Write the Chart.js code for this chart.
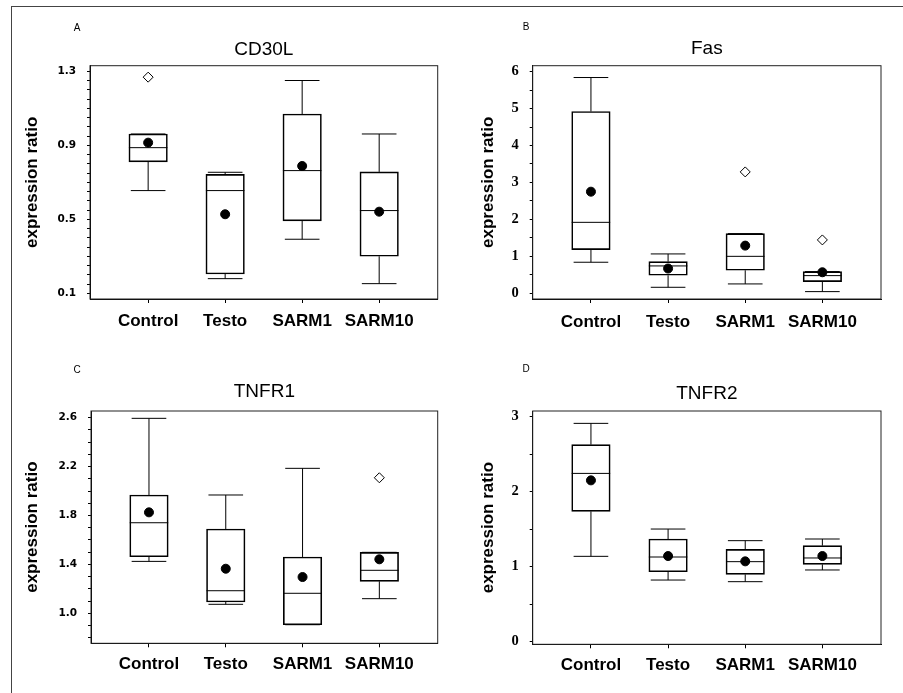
<!DOCTYPE html>
<html>
<head>
<meta charset="utf-8">
<script src="https://cdn.jsdelivr.net/npm/chart.js@4.4.0/dist/chart.umd.min.js"></script>
<style>
  body { margin: 0; background: #fff; width: 903px; height: 693px; overflow: hidden; position: relative; }
  .outer { position: absolute; left: 11px; top: 6px; width: 1000px; height: 1000px; border-left: 1.5px solid #444; border-top: 1.5px solid #444; }
  .panel { position: absolute; }
</style>
</head>
<body>
<div class="outer"></div>
<div class="panel" style="left:13px;top:8px;width:437px;height:332px"><canvas id="chartA"></canvas></div>
<div class="panel" style="left:452px;top:8px;width:451px;height:332px"><canvas id="chartB"></canvas></div>
<div class="panel" style="left:13px;top:345px;width:437px;height:348px"><canvas id="chartC"></canvas></div>
<div class="panel" style="left:452px;top:345px;width:451px;height:348px"><canvas id="chartD"></canvas></div>
<script>
const categories = ["Control", "Testo", "SARM1", "SARM10"];

// CD30L
const cd30lMin = [0.655, 0.179, 0.392, 0.152];
const cd30lQ1 = [0.81, 0.204, 0.491, 0.30];
const cd30lMedian = [0.887, 0.655, 0.763, 0.547];
const cd30lQ3 = [0.961, 0.743, 1.069, 0.756];
const cd30lMax = [0.961, 0.754, 1.25, 0.961];
const cd30lMean = [0.914, 0.527, 0.788, 0.541];
const cd30lOutliers = [1.268, null, null, null];
const cd30lTicks = ["0.1", "0.5", "0.9", "1.3"];

// Fas
const fasMin = [0.84, 0.162, 0.253, 0.045];
const fasQ1 = [1.18, 0.487, 0.623, 0.316];
const fasMedian = [1.92, 0.74, 1.0, 0.478];
const fasQ3 = [4.92, 0.857, 1.615, 0.587];
const fasMax = [5.84, 1.065, 1.615, 0.587];
const fasMean = [2.75, 0.67, 1.29, 0.569];
const fasOutliers = [null, null, 3.285, 1.444];
const fasTicks = ["0", "1", "2", "3", "4", "5", "6"];

// TNFR1
const tnfr1Min = [1.425, 1.074, 0.907, 1.12];
const tnfr1Q1 = [1.463, 1.093, 0.907, 1.262];
const tnfr1Median = [1.741, 1.185, 1.164, 1.352];
const tnfr1Q3 = [1.968, 1.69, 1.461, 1.499];
const tnfr1Max = [2.595, 1.968, 2.186, 1.499];
const tnfr1Mean = [1.826, 1.365, 1.297, 1.442];
const tnfr1Outliers = [null, null, null, 2.109];
const tnfr1Ticks = ["1.0", "1.4", "1.8", "2.2", "2.6"];

// TNFR2
const tnfr2Min = [1.138, 0.822, 0.80, 0.956];
const tnfr2Q1 = [1.738, 0.933, 0.898, 1.031];
const tnfr2Median = [2.244, 1.129, 1.067, 1.116];
const tnfr2Q3 = [2.627, 1.369, 1.231, 1.28];
const tnfr2Max = [2.911, 1.502, 1.347, 1.369];
const tnfr2Mean = [2.151, 1.142, 1.071, 1.142];
const tnfr2Outliers = [null, null, null, null];
const tnfr2Ticks = ["0", "1", "2", "3"];

Chart.defaults.font.family = "Arial, 'Liberation Sans', sans-serif";
Chart.defaults.color = "#000";

// whiskers and medians, drawn under the boxes and points
const boxPlugin = {
  id: "boxWhiskers",
  beforeDatasetsDraw(chart, args, opts) {
    const ctx = chart.ctx;
    const xs = chart.scales.x;
    const ys = chart.scales.y;
    const bars = chart.getDatasetMeta(2).data;
    ctx.save();
    ctx.strokeStyle = "#000";
    ctx.lineWidth = 1;
    for (let i = 0; i < categories.length; i++) {
      const cx = xs.getPixelForValue(i);
      const w = bars[i].width;
      const cap = w * 0.45;
      const yMin = ys.getPixelForValue(opts.min[i]);
      const yQ1 = ys.getPixelForValue(opts.q1[i]);
      const yMed = ys.getPixelForValue(opts.median[i]);
      const yQ3 = ys.getPixelForValue(opts.q3[i]);
      const yMax = ys.getPixelForValue(opts.max[i]);
      ctx.beginPath();
      ctx.moveTo(cx, yMin); ctx.lineTo(cx, yQ1);
      ctx.moveTo(cx, yQ3); ctx.lineTo(cx, yMax);
      ctx.moveTo(cx - cap, yMin); ctx.lineTo(cx + cap, yMin);
      ctx.moveTo(cx - cap, yMax); ctx.lineTo(cx + cap, yMax);
      ctx.moveTo(cx - w / 2, yMed); ctx.lineTo(cx + w / 2, yMed);
      ctx.stroke();
    }
    ctx.restore();
  },
  afterDraw(chart, args, opts) {
    const ctx = chart.ctx;
    const a = chart.chartArea;
    ctx.save();
    ctx.strokeStyle = "#222";
    ctx.lineWidth = 1;
    ctx.strokeRect(a.left, a.top, a.right - a.left, a.bottom - a.top);
    ctx.fillStyle = "#000";
    ctx.font = "10px Arial, 'Liberation Sans', sans-serif";
    ctx.textAlign = "center";
    ctx.textBaseline = "middle";
    ctx.fillText(opts.letter, opts.letterX, opts.letterY);
    ctx.restore();
  },
};

function makePanel(canvasId, p) {
  const majors = p.ticks.map((t) => parseFloat(t));
  const outlierPts = [];
  p.outliers.forEach((v, i) => {
    if (v !== null) outlierPts.push({ x: i, y: v });
  });

  new Chart(document.getElementById(canvasId), {
    type: "bar",
    data: {
      datasets: [
        {
          type: "scatter",
          data: p.mean.map((v, i) => ({ x: i, y: v })),
          pointRadius: 4.5,
          pointBackgroundColor: "#000",
          pointBorderColor: "#000",
          pointBorderWidth: 1,
        },
        {
          type: "scatter",
          data: outlierPts,
          pointStyle: "rectRot",
          pointRadius: 5,
          pointBackgroundColor: "#fff",
          pointBorderColor: "#000",
          pointBorderWidth: 1,
        },
        {
          type: "bar",
          data: p.q1.map((v, i) => ({ x: i, y: [v, p.q3[i]] })),
          backgroundColor: "rgba(0,0,0,0)",
          borderColor: "#000",
          borderWidth: 1,
          borderSkipped: false,
          barThickness: 38.5,
        },
      ],
    },
    options: {
      responsive: true,
      maintainAspectRatio: false,
      animation: false,
      layout: { padding: { left: 0, right: p.padRight, top: 0, bottom: 0 } },
      scales: {
        x: {
          type: "linear",
          min: -0.755,
          max: 3.76,
          bounds: "data",
          offset: false,
          afterBuildTicks: (axis) => {
            axis.ticks = categories.map((c, i) => ({ value: i }));
          },
          afterFit: (axis) => {
            axis.height = p.xHeight;
          },
          grid: { display: true, drawOnChartArea: false, offset: false, tickLength: 4, color: "#000" },
          border: { display: true, color: "#000", width: 1 },
          ticks: {
            autoSkip: false,
            maxRotation: 0,
            padding: p.xPad,
            font: { size: 17, weight: "bold" },
            callback: (v) => categories[v],
          },
        },
        y: {
          type: "linear",
          min: p.yMin,
          max: p.yMax,
          bounds: "data",
          afterBuildTicks: (axis) => {
            const t = [];
            const start = Math.ceil(p.yMin / p.minorStep - 1e-9);
            for (let k = start; k * p.minorStep <= p.yMax + 1e-9; k++) {
              t.push({ value: Math.round(k * p.minorStep * 1000) / 1000 });
            }
            axis.ticks = t;
          },
          afterFit: (axis) => {
            axis.width = p.yWidth;
          },
          grid: { display: true, drawOnChartArea: false, tickLength: 3, color: "#000" },
          border: { display: true, color: "#000", width: 1 },
          ticks: {
            autoSkip: false,
            padding: 11,
            font: p.tickFont,
            callback: (v) => {
              const idx = majors.findIndex((m) => Math.abs(m - v) < 1e-6);
              return idx >= 0 ? p.ticks[idx] : "";
            },
          },
          title: {
            display: true,
            text: "expression ratio",
            font: { size: 17, weight: "bold" },
            padding: { top: p.yTitlePad, bottom: 0 },
          },
        },
      },
      plugins: {
        legend: { display: false },
        tooltip: { enabled: false },
        title: {
          display: true,
          text: p.title,
          fullSize: false,
          font: { size: 19, weight: "normal" },
          padding: { top: p.titleTop, bottom: p.titleBottom },
        },
        boxWhiskers: {
          min: p.min, q1: p.q1, median: p.median, q3: p.q3, max: p.max,
          letter: p.letter, letterX: p.letterX, letterY: p.letterY,
        },
      },
    },
    plugins: [boxPlugin],
  });
}

const sansTicks = { family: "'DejaVu Sans', sans-serif", size: 10.5, weight: "bold" };
const serifTicks = { family: "'Liberation Serif', 'Times New Roman', serif", size: 14.5, weight: "bold" };

makePanel("chartA", {
  title: "CD30L", letter: "A", letterX: 64, letterY: 20.5,
  min: cd30lMin, q1: cd30lQ1, median: cd30lMedian, q3: cd30lQ3, max: cd30lMax,
  mean: cd30lMean, outliers: cd30lOutliers, ticks: cd30lTicks,
  yMin: 0.069, yMax: 1.33, minorStep: 0.05, tickFont: sansTicks,
  yWidth: 77, padRight: 12.3, xHeight: 41, xPad: 8.5,
  titleTop: 29.9, titleBottom: 5.0, yTitlePad: 9.5,
});

makePanel("chartB", {
  title: "Fas", letter: "B", letterX: 74, letterY: 19.5,
  min: fasMin, q1: fasQ1, median: fasMedian, q3: fasQ3, max: fasMax,
  mean: fasMean, outliers: fasOutliers, ticks: fasTicks,
  yMin: -0.155, yMax: 6.16, minorStep: 0.5, tickFont: serifTicks,
  yWidth: 80.7, padRight: 22, xHeight: 41, xPad: 9.5,
  titleTop: 29.6, titleBottom: 5.3, yTitlePad: 26.3,
});

makePanel("chartC", {
  title: "TNFR1", letter: "C", letterX: 64, letterY: 25.7,
  min: tnfr1Min, q1: tnfr1Q1, median: tnfr1Median, q3: tnfr1Q3, max: tnfr1Max,
  mean: tnfr1Mean, outliers: tnfr1Outliers, ticks: tnfr1Ticks,
  yMin: 0.755, yMax: 2.655, minorStep: 0.1, tickFont: sansTicks,
  yWidth: 78, padRight: 12.3, xHeight: 49.7, xPad: 6.5,
  titleTop: 35.3, titleBottom: 7.9, yTitlePad: 9.3,
});

makePanel("chartD", {
  title: "TNFR2", letter: "D", letterX: 74, letterY: 24.3,
  min: tnfr2Min, q1: tnfr2Q1, median: tnfr2Median, q3: tnfr2Q3, max: tnfr2Max,
  mean: tnfr2Mean, outliers: tnfr2Outliers, ticks: tnfr2Ticks,
  yMin: -0.035, yMax: 3.076, minorStep: 0.5, tickFont: serifTicks,
  yWidth: 80.7, padRight: 22, xHeight: 48.7, xPad: 6.5,
  titleTop: 37, titleBottom: 6.2, yTitlePad: 26.5,
});
</script>
</body>
</html>
